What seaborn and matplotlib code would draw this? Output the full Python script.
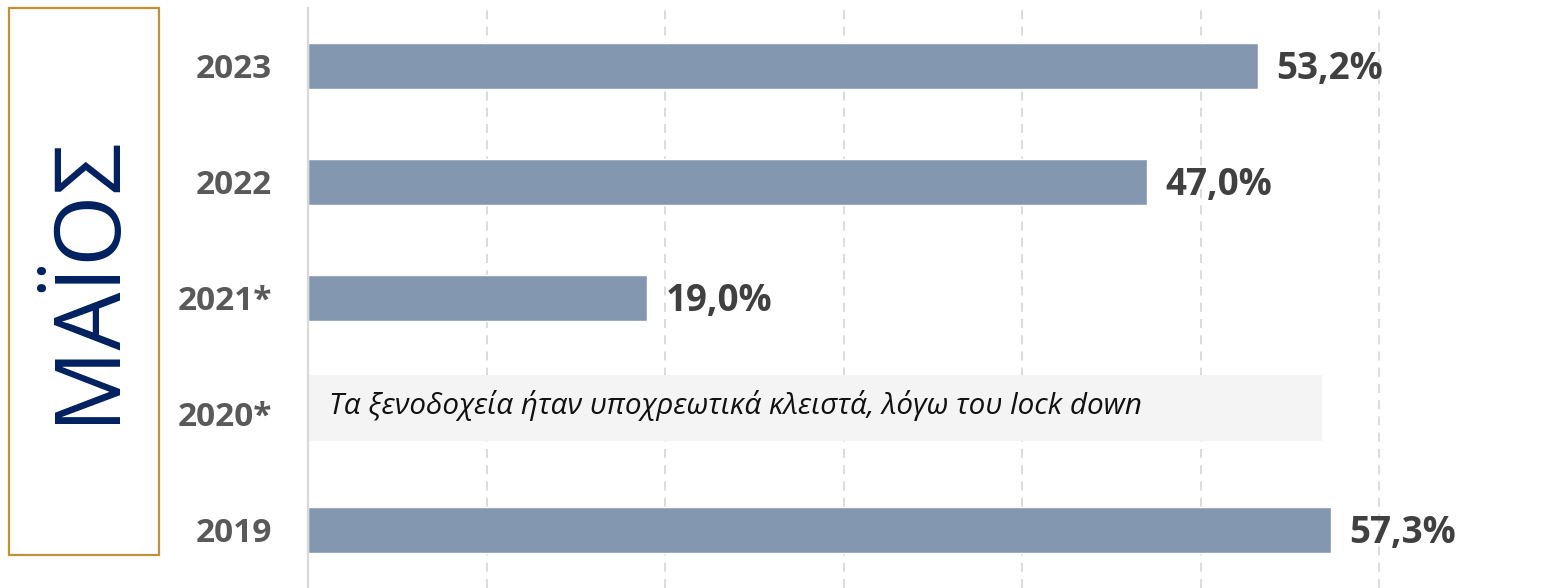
import numpy as np
import pandas as pd
import matplotlib
matplotlib.use("Agg")
import matplotlib.pyplot as plt
from matplotlib.patches import Rectangle
import seaborn as sns

# Hotel occupancy in May, by year
years = ["2023", "2022", "2021*", "2020*", "2019"]
occupancy = [53.2, 47.0, 19.0, np.nan, 57.3]

month_title = "ΜΑΪΟΣ"
closed_year = "2020*"
closed_note = "Τα ξενοδοχεία ήταν υποχρεωτικά κλειστά, λόγω του lock down"
closed_band_end = 56.8

df = pd.DataFrame({"year": years, "occupancy": occupancy})

sns.set_theme(style="white")
plt.rcParams["font.family"] = ["Open Sans", "DejaVu Sans"]

W, H = 1558, 588
fig = plt.figure(figsize=(W / 100, H / 100), dpi=100)
fig.patch.set_facecolor("white")

ax = fig.add_axes([308 / W, 0, (W - 308) / W, 580 / H])
sns.barplot(data=df, x="occupancy", y="year", order=years, orient="h",
            color="#8497B0", saturation=1, width=0.4, ax=ax, zorder=2)

ax.set_xlim(0, 70)
ax.set_xticks(np.arange(10, 70, 10))
ax.set_xticklabels([])
ax.tick_params(axis="x", length=0)
ax.set_axisbelow(True)
ax.grid(axis="x", color="#d9d9d9", linestyle=(0, (5, 4)), linewidth=1.3)
ax.grid(axis="y", visible=False)
for side in ["top", "right", "bottom"]:
    ax.spines[side].set_visible(False)
ax.spines["left"].set_color("#d9d9d9")
ax.spines["left"].set_linewidth(1.6)
ax.set_xlabel("")
ax.set_ylabel("")
ax.tick_params(axis="y", length=0, pad=26)
for lbl in ax.get_yticklabels():
    lbl.set_fontweight("bold")
    lbl.set_fontsize(24)
    lbl.set_color("#595959")

# value labels
for i, v in enumerate(occupancy):
    if np.isnan(v):
        continue
    ax.annotate(f"{v:.1f}%".replace(".", ","), xy=(v, i), xytext=(13, -2),
                textcoords="offset points", ha="left", va="center",
                fontsize=26.5, fontweight="bold", color="#404040")

# note band for the closed year
ci = years.index(closed_year)
ax.add_patch(Rectangle((0, ci - 0.335), closed_band_end, 0.565,
                       facecolor="#f4f4f4", edgecolor="none", zorder=1))
ax.annotate(closed_note, xy=(0, ci), xytext=(15, 0), textcoords="offset points",
            ha="left", va="baseline", fontsize=21.3, fontstyle="italic",
            color="#111111", zorder=3)

# month panel on the left
fig.add_artist(Rectangle((9 / W, (H - 555) / H), 150 / W, 547 / H,
                         transform=fig.transFigure, facecolor="none",
                         edgecolor="#C09035", linewidth=1.6))
fig.text(88 / W, 1 - 278 / H, month_title, rotation=90, ha="center",
         va="center", fontsize=66, color="#002060")

fig.savefig("out.png", dpi=100)
